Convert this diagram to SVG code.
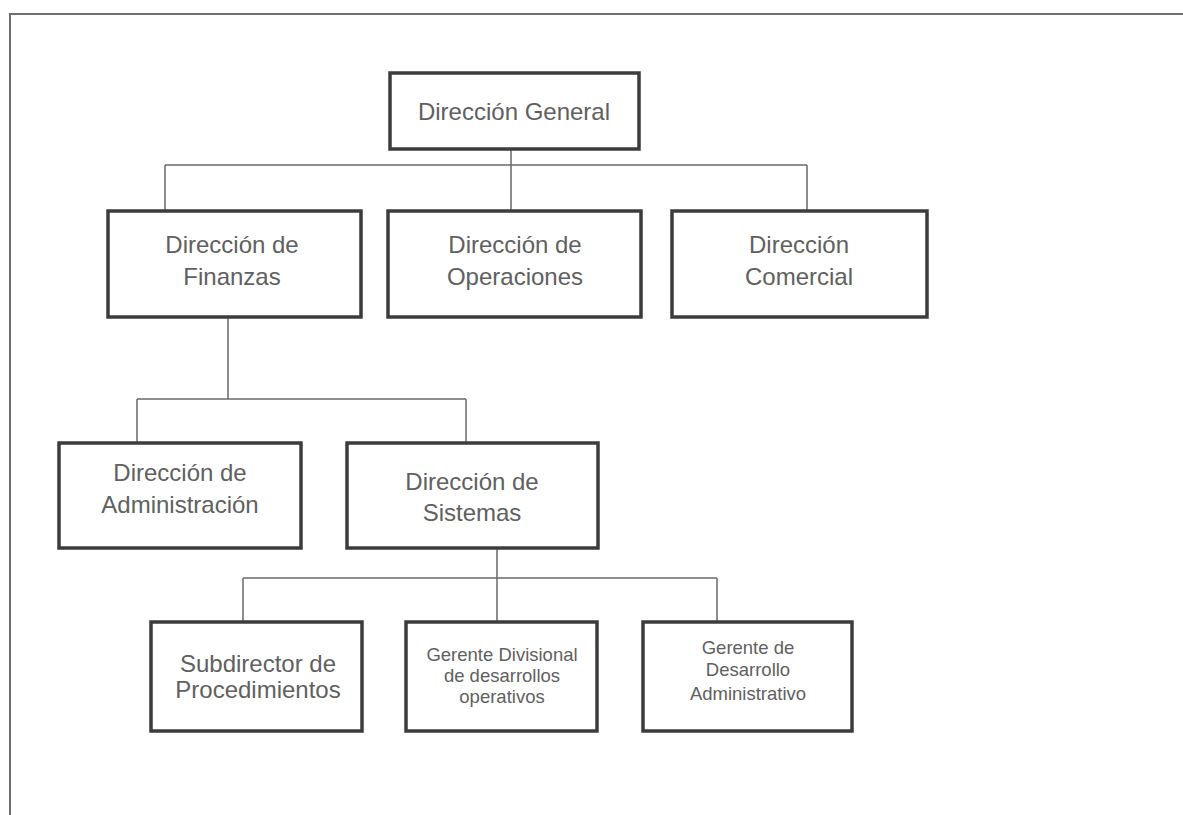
<svg xmlns="http://www.w3.org/2000/svg" width="1183" height="815" viewBox="0 0 1183 815">
  <style>
    .box { fill: #ffffff; stroke: #3c3c3c; stroke-width: 3.5; }
    .lbl { font-family: "Liberation Sans", Arial, sans-serif; font-size: 24px; fill: #606060; text-anchor: middle; }
    .sm { font-family: "Liberation Sans", Arial, sans-serif; font-size: 18.5px; fill: #606060; text-anchor: middle; }
    .wire { fill: none; stroke: #6a6a6a; stroke-width: 1.5; }
    .frame { fill: none; stroke: #6e6e6e; stroke-width: 2; }
  </style>
  <rect width="1183" height="815" fill="#ffffff"/>

  <!-- page frame: top rule and left rule -->
  <path class="frame" d="M10 815 V14 H1183"/>

  <!-- connectors -->
  <g id="connectors">
    <path class="wire" d="M511 149 V165 M165 165 H807 M165 165 V211 M511 165 V211 M807 165 V211"/>
    <path class="wire" d="M228 317 V399 M137 399 H466 M137 399 V443 M466 399 V443"/>
    <path class="wire" d="M497 548 V578 M243 578 H717 M243 578 V622 M497 578 V622 M717 578 V622"/>
  </g>

  <g id="direccion-general">
    <rect class="box" x="390" y="73" width="249" height="76"/>
    <text class="lbl" x="514" y="120">Dirección General</text>
  </g>

  <g id="direccion-finanzas">
    <rect class="box" x="108" y="211" width="253" height="106"/>
    <text class="lbl" x="232" y="253">Dirección de</text>
    <text class="lbl" x="232" y="285">Finanzas</text>
  </g>

  <g id="direccion-operaciones">
    <rect class="box" x="388" y="211" width="253" height="106"/>
    <text class="lbl" x="515" y="253">Dirección de</text>
    <text class="lbl" x="515" y="285">Operaciones</text>
  </g>

  <g id="direccion-comercial">
    <rect class="box" x="672" y="211" width="255" height="106"/>
    <text class="lbl" x="799" y="253">Dirección</text>
    <text class="lbl" x="799" y="285">Comercial</text>
  </g>

  <g id="direccion-administracion">
    <rect class="box" x="59" y="443" width="242" height="105"/>
    <text class="lbl" x="180" y="481">Dirección de</text>
    <text class="lbl" x="180" y="513">Administración</text>
  </g>

  <g id="direccion-sistemas">
    <rect class="box" x="347" y="443" width="251" height="105"/>
    <text class="lbl" x="472" y="490">Dirección de</text>
    <text class="lbl" x="472" y="521">Sistemas</text>
  </g>

  <g id="subdirector-procedimientos">
    <rect class="box" x="151" y="622" width="211" height="109"/>
    <text class="lbl" x="258" y="672">Subdirector de</text>
    <text class="lbl" x="258" y="698">Procedimientos</text>
  </g>

  <g id="gerente-divisional">
    <rect class="box" x="406" y="622" width="191" height="109"/>
    <text class="sm" x="502" y="661">Gerente Divisional</text>
    <text class="sm" x="502" y="682">de desarrollos</text>
    <text class="sm" x="502" y="703">operativos</text>
  </g>

  <g id="gerente-desarrollo">
    <rect class="box" x="643" y="622" width="209" height="109"/>
    <text class="sm" x="748" y="654">Gerente de</text>
    <text class="sm" x="748" y="676">Desarrollo</text>
    <text class="sm" x="748" y="700">Administrativo</text>
  </g>
</svg>
